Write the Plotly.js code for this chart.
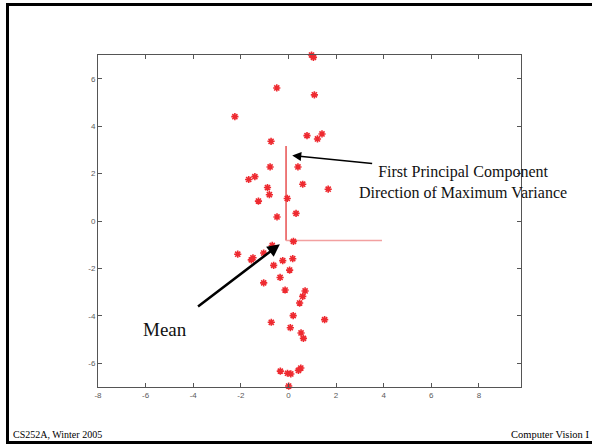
<!DOCTYPE html>
<html>
<head>
<meta charset="utf-8">
<script src="https://cdn.plot.ly/plotly-3.0.1.min.js"></script>
<style>
  html, body { margin: 0; padding: 0; background: #fff; }
  #wrap { position: relative; width: 592px; height: 446px; overflow: hidden; }
  #chart { position: absolute; left: 0; top: 0; width: 592px; height: 446px; }
  #frame { position: absolute; left: 6px; top: 3px; width: 600px; height: 441px;
           border-left: 3px solid #000; border-top: 3px solid #000; border-bottom: 3px solid #000;
           pointer-events: none; box-sizing: border-box; }
</style>
</head>
<body>
<div id="wrap"><div id="chart"></div><div id="frame"></div></div>
<script>
// Data points
const xs = [0.97, 1.05, -0.49, 1.09, -2.25, 0.78, 1.22, 1.41, -0.73, -0.77, 0.40,
            -1.67, -1.41, 0.60, 1.67, -0.88, -0.80, -1.26, -0.05, 0.32, -0.48,
            0.21, -0.68, -2.13, -1.49, -1.56, -1.04, -0.62, -0.24, 0.18, 0.05,
            -0.35, -1.04, -0.14, 0.70, 0.60, 0.47, 0.20, 1.52, -0.72, 0.08,
            0.53, 0.63, -0.34, -0.04, 0.10, 0.42, 0.52, 0.01];
const ys = [7.00, 6.90, 5.61, 5.32, 4.40, 3.60, 3.46, 3.67, 3.36, 2.28, 2.28,
            1.75, 1.87, 1.55, 1.34, 1.41, 1.11, 0.84, 0.95, 0.32, 0.17,
            -0.86, -1.03, -1.40, -1.55, -1.64, -1.35, -1.87, -1.67, -1.59, -2.07,
            -2.38, -2.61, -2.91, -2.95, -3.18, -3.46, -3.99, -4.16, -4.27, -4.50,
            -4.72, -4.95, -6.33, -6.42, -6.45, -6.30, -6.20, -6.96];

// Mean and principal directions
const meanPt = [-0.10, -0.82];
const pc1End = [-0.10, 3.16];
const pc2End = [3.93, -0.82];

const xTicks = [-8, -6, -4, -2, 0, 2, 4, 6, 8];
const yTicks = [-6, -4, -2, 0, 2, 4, 6];

const labelPC = 'First Principal Component<br>Direction of Maximum Variance';
const labelMean = 'Mean';
const footLeft = 'CS252A, Winter 2005';
const footRight = 'Computer Vision I';

const traces = [
  { x: [meanPt[0], pc1End[0]], y: [meanPt[1], pc1End[1]], mode: 'lines',
    line: { color: '#e85050', width: 1.5 }, hoverinfo: 'skip' },
  { x: [meanPt[0], pc2End[0]], y: [meanPt[1], pc2End[1]], mode: 'lines',
    line: { color: '#f2a0a0', width: 1.5 }, hoverinfo: 'skip' },
  { x: xs, y: ys, mode: 'markers', cliponaxis: false,
    marker: { symbol: 'asterisk-open', size: 6, color: '#ee2a30',
              line: { color: '#ee2a30', width: 1.6 } } }
];

const axisCommon = {
  showgrid: false, zeroline: false, showline: true, mirror: 'ticks',
  linecolor: '#555', linewidth: 1, ticks: 'inside', ticklen: 4, tickcolor: '#555',
  tickfont: { family: 'Arial, Liberation Sans, sans-serif', size: 8, color: '#5a5a5a' }
};

const layout = {
  width: 592, height: 446,
  margin: { l: 98, r: 71, t: 55, b: 59 },
  paper_bgcolor: '#fff', plot_bgcolor: '#fff',
  showlegend: false,
  xaxis: Object.assign({}, axisCommon, { range: [-8, 9.77], tickvals: xTicks, ticktext: xTicks.map(String) }),
  yaxis: Object.assign({}, axisCommon, { range: [-7, 7], tickvals: yTicks, ticktext: yTicks.map(String) }),
  annotations: [
    { x: 0.16, y: 2.76, ax: 3.58, ay: 2.42, axref: 'x', ayref: 'y', xref: 'x', yref: 'y',
      text: '', showarrow: true, arrowhead: 2, arrowsize: 1.2, arrowwidth: 1.5, arrowcolor: '#000' },
    { x: -0.36, y: -0.98, ax: -3.86, ay: -3.65, axref: 'x', ayref: 'y', xref: 'x', yref: 'y',
      text: '', showarrow: true, arrowhead: 2, arrowsize: 1, arrowwidth: 2.5, arrowcolor: '#000' },
    { x: 7.35, y: 1.65, xref: 'x', yref: 'y', text: labelPC, showarrow: false,
      font: { family: 'Liberation Serif, Times New Roman, serif', size: 16, color: '#111' } },
    { x: -5.19, y: -4.57, xref: 'x', yref: 'y', text: labelMean, showarrow: false,
      font: { family: 'Liberation Serif, Times New Roman, serif', size: 19, color: '#111' } },
    { x: (11 - 98) / 423, y: (387 - 434) / 332, xref: 'paper', yref: 'paper', xanchor: 'left', yanchor: 'middle',
      text: footLeft, showarrow: false,
      font: { family: 'Liberation Serif, Times New Roman, serif', size: 10, color: '#000' } },
    { x: (509 - 98) / 423, y: (387 - 434) / 332, xref: 'paper', yref: 'paper', xanchor: 'left', yanchor: 'middle',
      text: footRight, showarrow: false,
      font: { family: 'Liberation Serif, Times New Roman, serif', size: 10.5, color: '#000' } }
  ]
};

Plotly.newPlot('chart', traces, layout, { staticPlot: true, displayModeBar: false });
</script>
</body>
</html>
